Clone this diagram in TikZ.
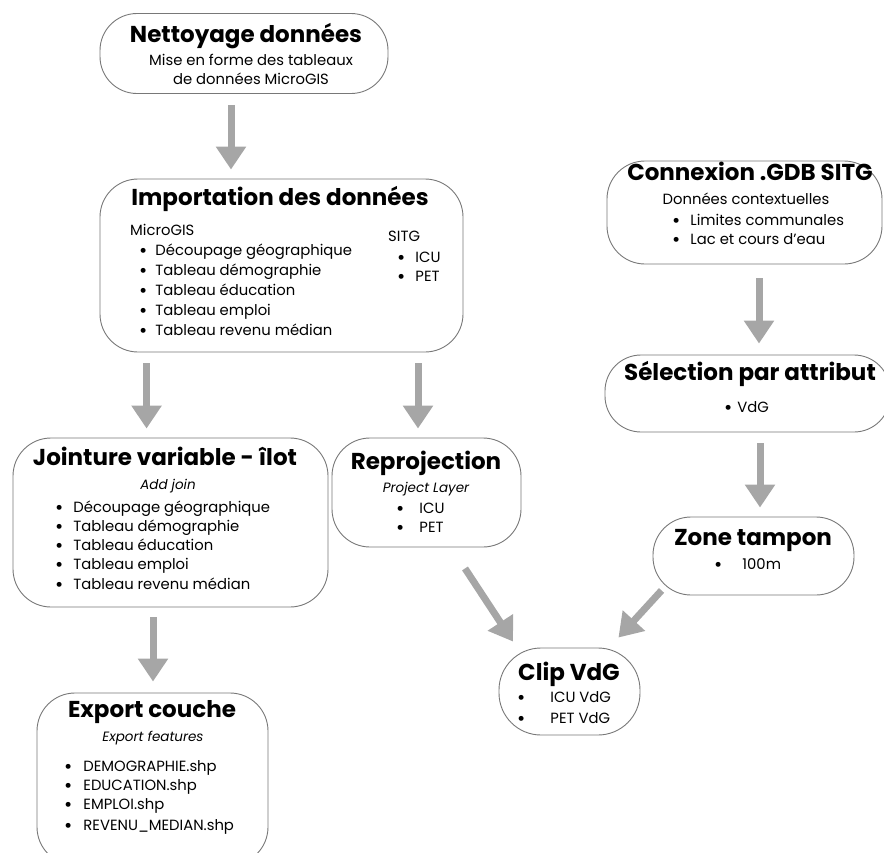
\documentclass[tikz,border=0pt]{standalone}
\usepackage{fontspec}
\setmainfont{Poppins}
\usetikzlibrary{arrows.meta,calc}

\definecolor{flechegris}{RGB}{166,166,166}
\definecolor{bordgris}{RGB}{120,120,120}

\newcommand{\puce}[2][9pt]{\raisebox{-1.3pt}{\scalebox{1.35}{\textbullet}}\hspace{#1}#2}

\tikzset{
  etape/.style={draw=bordgris, line width=0.9pt, rounded corners=38pt, inner sep=0pt},
  titre/.style={anchor=mid, inner sep=0pt, font=\fontsize{23}{26}\selectfont\bfseries},
  texte/.style={anchor=mid, inner sep=0pt, font=\fontsize{14.8}{17}\selectfont},
  soustitre/.style={anchor=mid, inner sep=0pt, font=\fontsize{13.5}{16}\selectfont\itshape},
  item/.style={anchor=mid west, inner sep=0pt, font=\fontsize{14.8}{17}\selectfont},
  fleche/.style={draw=flechegris, line width=7pt, -{Triangle[width=29pt,length=23pt]}},
}

\begin{document}
\begin{tikzpicture}[x=1pt, y=-1pt]
    \useasboundingbox (0,0) rectangle (884,852);

% boxes
    \node[etape, rounded corners=37pt, minimum width=288pt, minimum height=80pt] (nett) at (244,53.5) {};
    \node[etape, minimum width=363pt, minimum height=173pt] (import) at (281.5,265.5) {};
    \node[etape, minimum width=275pt, minimum height=103pt] (gdb) at (744.5,212.5) {};
    \node[etape, rounded corners=36pt, minimum width=285pt, minimum height=77pt] (select) at (747.5,393.5) {};
    \node[etape, minimum width=315pt, minimum height=169pt] (joint) at (170.5,522.5) {};
    \node[etape, minimum width=189pt, minimum height=109pt] (reproj) at (426.5,492.5) {};
    \node[etape, rounded corners=38pt, minimum width=201pt, minimum height=78pt] (zone) at (753.5,556) {};
    \node[etape, rounded corners=42pt, minimum width=141pt, minimum height=87pt] (clip) at (569.5,691.5) {};
    \node[etape, minimum width=231pt, minimum height=172pt] (export) at (152.5,779) {};

% Nettoyage
    \node[titre] (nettT) at (246,40) {Nettoyage données};
    \node[texte] (nett1) at (251,63) {Mise en forme des tableaux};
    \node[texte] (nett2) at (251,82) {de données MicroGIS};

% Importation
    \node[titre] (impT) at (280,203) {Importation des données};
    \node[item] (impM) at (130,233) {MicroGIS};
    \node[item] (imp1) at (139,253) {\puce[8pt]{Découpage géographique}};
    \node[item] (imp2) at (139,273) {\puce[8pt]{Tableau démographie}};
    \node[item] (imp3) at (139,293) {\puce[8pt]{Tableau éducation}};
    \node[item] (imp4) at (139,313) {\puce[8pt]{Tableau emploi}};
    \node[item] (imp5) at (139,333) {\puce[8pt]{Tableau revenu médian}};
    \node[item] (impS) at (388,239) {SITG};
    \node[item] (impS1) at (397,260) {\puce[10pt]{ICU}};
    \node[item] (impS2) at (397,279) {\puce[10pt]{PET}};

% Connexion .GDB
    \node[titre] (gdbT) at (750,178) {Connexion .GDB SITG};
    \node[texte] (gdb0) at (746,202) {Données contextuelles};
    \node[item] (gdb1) at (672,223) {\puce[10pt]{Limites communales}};
    \node[item] (gdb2) at (672,242) {\puce[10pt]{Lac et cours d'eau}};

% Selection
    \node[titre] (selT) at (750,378) {Sélection par attribut};
    \node[item] (sel1) at (724,410) {\puce[5pt]{VdG}};

% Jointure
    \node[titre] (jointT) at (165,463) {Jointure variable - îlot};
    \node[soustitre] (joint0) at (168,487) {Add join};
    \node[item] (joint1) at (55,510) {\puce[10pt]{Découpage géographique}};
    \node[item] (joint2) at (55,529) {\puce[10pt]{Tableau démographie}};
    \node[item] (joint3) at (55,548) {\puce[10pt]{Tableau éducation}};
    \node[item] (joint4) at (55,567) {\puce[10pt]{Tableau emploi}};
    \node[item] (joint5) at (55,587) {\puce[10pt]{Tableau revenu médian}};

% Reprojection
    \node[titre] (reprojT) at (426,467) {Reprojection};
    \node[soustitre] (reproj0) at (426,490) {Project Layer};
    \node[item] (reproj1) at (396,511) {\puce[15pt]{ICU}};
    \node[item] (reproj2) at (396,530) {\puce[15pt]{PET}};

% Zone tampon
    \node[titre] (zoneT) at (753,543) {Zone tampon};
    \node[item] (zone1) at (714,567) {\puce[20pt]{100m}};

% Clip
    \node[titre] (clipT) at (569,678) {Clip VdG};
    \node[item] (clip1) at (517,700) {\puce[25pt]{ICU VdG}};
    \node[item] (clip2) at (517,721) {\puce[25pt]{PET VdG}};

% Export
    \node[titre] (exportT) at (152,715) {Export couche};
    \node[soustitre] (export0) at (153,739) {Export features};
    \node[item] (export1) at (64,769) {\puce[11pt]{DEMOGRAPHIE.shp}};
    \node[item] (export2) at (64,788) {\puce[11pt]{EDUCATION.shp}};
    \node[item] (export3) at (64,807) {\puce[11pt]{EMPLOI.shp}};
    \node[item] (export4) at (64,828) {\puce[11pt]{REVENU\_MEDIAN.shp}};

% arrows
    \draw[fleche, shorten <=11pt, shorten >=9pt] ($(nett.south)+(-13,0)$) -- ($(nett.south |- import.north)+(-13,0)$);
    \draw[fleche, shorten <=11pt, shorten >=9pt] ($(import.south west)+(47,0)$) -- ($(import.south west |- joint.north)+(47,0)$);
    \draw[fleche, shorten <=11pt, shorten >=9pt] ($(reproj.north |- import.south)+(-8.5,0)$) -- ($(reproj.north)+(-8.5,0)$);
    \draw[fleche, shorten <=14pt, shorten >=11pt] ($(gdb.south)+(14.5,0)$) -- ($(gdb.south |- select.north)+(14.5,0)$);
    \draw[fleche, shorten <=11pt, shorten >=9pt] ($(select.south)+(12.5,0)$) -- ($(select.south |- zone.north)+(12.5,0)$);
    \draw[fleche, shorten <=10pt, shorten >=11pt] ($(joint.south)+(-17.5,0)$) -- ($(joint.south |- export.north)+(-17.5,0)$);
    \draw[fleche] ($(reproj.south)+(38.5,21)$) -- ($(clip.north)+(-56.5,-6)$);
    \draw[fleche] ($(zone.south west)+(9,-5)$) -- ($(clip.north east)+(-22,-10)$);

\end{tikzpicture}
\end{document}
